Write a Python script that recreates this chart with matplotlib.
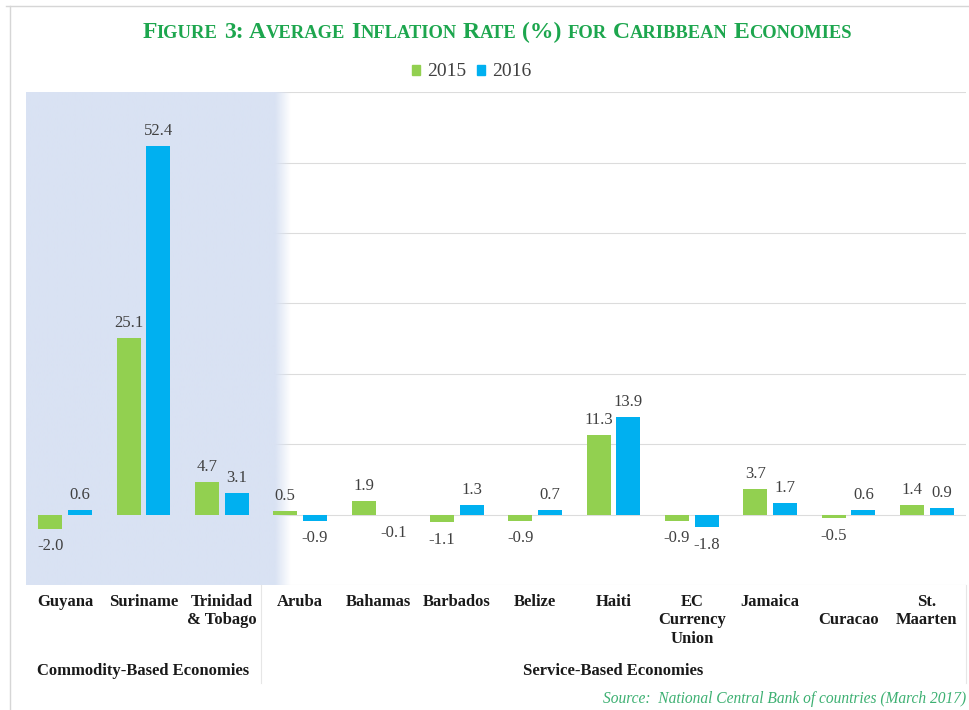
import matplotlib
matplotlib.use("Agg")
import matplotlib.pyplot as plt
import numpy as np
from matplotlib.lines import Line2D
from matplotlib.patches import Patch

plt.rcParams['font.family'] = ['Liberation Serif', 'DejaVu Serif']

# --- data ---
countries = ["Guyana", "Suriname", "Trinidad\n& Tobago", "Aruba", "Bahamas",
             "Barbados", "Belize", "Haiti", "EC\nCurrency\nUnion", "Jamaica",
             "\nCuracao", "St.\nMaarten"]
infl_2015 = [-2.0, 25.1, 4.7, 0.5, 1.9, -1.1, -0.9, 11.3, -0.9, 3.7, -0.5, 1.4]
infl_2016 = [0.6, 52.4, 3.1, -0.9, -0.1, 1.3, 0.7, 13.9, -1.8, 1.7, 0.6, 0.9]
years = ["2015", "2016"]
groups = ["Commodity-Based Economies", "Service-Based Economies"]
group_members = [(0, 2), (3, 11)]   # first/last index of each group

title = "Figure 3: Average Inflation Rate (%) for Caribbean Economies"
source = "Source:  National Central Bank of countries (March 2017)"

GREEN = '#92D050'
BLUE = '#00B0F0'
SHADE = '#D9E2F3'
GRID = '#DCDCDC'
TXT = '#404040'
TITLE_GREEN = '#1DA64E'

W, H = 969, 710
fig = plt.figure(figsize=(W / 100, H / 100), dpi=100)
ax = fig.add_axes([26 / W, 1 - 585 / H, (966 - 26) / W, (585 - 92.3) / H])

x = np.arange(len(countries))
bw = 0.307
off = 0.19

# light horizontal grid
for gy in range(-10, 61, 10):
    ax.axhline(gy, color=GRID, lw=0.8, zorder=0)

# shaded block behind the commodity economies, soft right edge
x0, x1 = -0.5, 2.88
cols = np.linspace(x0, x1, 500)
alpha = np.clip((x1 - cols) / 0.2, 0, 1)
rgba = np.zeros((1, len(cols), 4))
rgba[..., :3] = matplotlib.colors.to_rgb(SHADE)
rgba[0, :, 3] = alpha
ax.imshow(rgba, extent=[x0, x1, -10, 60], aspect='auto', interpolation='bilinear', zorder=1)

b1 = ax.bar(x - off, infl_2015, bw, color=GREEN, zorder=2, label=years[0])
b2 = ax.bar(x + off, infl_2016, bw, color=BLUE, zorder=2, label=years[1])

# value labels above / below each bar
for xs, vals in ((x - off, infl_2015), (x + off, infl_2016)):
    for xi, v in zip(xs, vals):
        dy = 10.8 if v >= 0 else -12.6
        ax.annotate(f"{v:.1f}", (xi, v), xytext=(0, dy), textcoords='offset points',
                    ha='center', va='center', fontsize=12, color=TXT, zorder=3)

ax.set_xlim(-0.5, len(countries) - 0.5)
ax.set_ylim(-10, 60)
ax.set_yticks([])
ax.set_xticks(x, countries, fontsize=12, fontweight='bold', color='#1a1a1a')
ax.tick_params(axis='x', length=0, pad=6.5)
for s in ax.spines.values():
    s.set_visible(False)

# group captions under the category names
xt = ax.get_xaxis_transform()
for name, (a, b) in zip(groups, group_members):
    ax.text((a + b) / 2, -0.1745, name, transform=xt, ha='center', va='center',
            fontsize=12, fontweight='bold', color='#1a1a1a')

# table-style separators in the label area
for sx in (2.5, 11.5):
    ax.add_artist(Line2D([sx, sx], [0, -0.199], transform=xt, color='#E6E6E6',
                         lw=0.8, clip_on=False))

# outer frame (top and left edge)
fig.add_artist(Line2D([10 / W, 10 / W], [0, 1 - 6 / H], color='#D6D6D6', lw=1))
fig.add_artist(Line2D([6 / W, 1], [1 - 6 / H, 1 - 6 / H], color='#D6D6D6', lw=1))

# title in small caps: lowercase letters are drawn as smaller capitals
renderer = fig.canvas.get_renderer()
big, small = 17.0, 13.3
segs = []
for word in title.split(" "):
    parts = []
    for ch in word:
        is_small = ch.islower()
        if parts and parts[-1][1] == is_small:
            parts[-1][0] += ch.upper()
        else:
            parts.append([ch.upper(), is_small])
    segs.append(parts)

ty = 1 - 38 / H
texts = []
for parts in segs:
    wt = []
    for s, is_small in parts:
        t = fig.text(0, ty, s, fontsize=small if is_small else big, fontweight='bold',
                     color=TITLE_GREEN, va='baseline', ha='left')
        wt.append(t)
    texts.append(wt)
gap = big * 100 / 72 * 0.25
widths = [[t.get_window_extent(renderer).width for t in wt] for wt in texts]
total = sum(sum(w) for w in widths) + gap * (len(widths) - 1)
cx = 497.0
px = cx - total / 2
for wt, ws in zip(texts, widths):
    for t, w in zip(wt, ws):
        t.set_x(px / W)
        px += w
    px += gap

# legend
fig.legend(handles=[Patch(color=GREEN, label=years[0]), Patch(color=BLUE, label=years[1])],
           loc='center', bbox_to_anchor=(471.5 / W, 1 - 72 / H), ncol=2, frameon=False,
           fontsize=14, handlelength=0.42, handleheight=0.42, handletextpad=0.35,
           columnspacing=0.55, labelcolor=TXT)

fig.text(966 / W, 1 - 699 / H, source, fontsize=11.2, style='italic', color='#3DB072',
         ha='right', va='center')

fig.savefig("out.png", dpi=100, facecolor='white')
